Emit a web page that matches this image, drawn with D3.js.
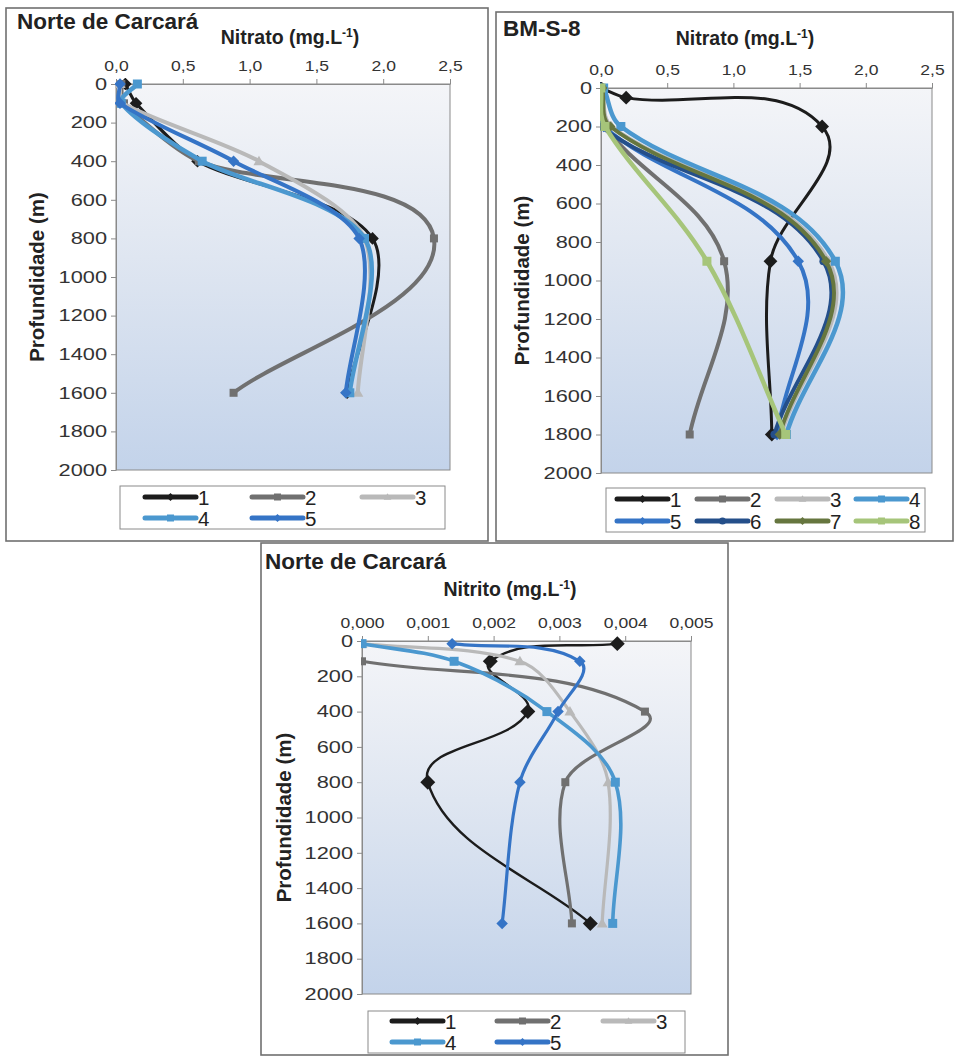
<!DOCTYPE html>
<html>
<head>
<meta charset="utf-8">
<script src="https://cdn.jsdelivr.net/npm/d3@7"></script>
<style>
  html, body { margin: 0; padding: 0; background: #ffffff; }
  svg { display: block; font-family: "Liberation Sans", Arial, sans-serif; }
</style>
</head>
<body>
<svg id="chart" width="955" height="1057"></svg>
<script>
// ---- data ---------------------------------------------------------------
const seriesNames5 = ["1", "2", "3", "4", "5"];
const seriesNames8 = ["1", "2", "3", "4", "5", "6", "7", "8"];
const depthTicks = [0, 200, 400, 600, 800, 1000, 1200, 1400, 1600, 1800, 2000];
const nitratoTicks = [0, 0.5, 1.0, 1.5, 2.0, 2.5];
const nitritoTicks = [0, 0.001, 0.002, 0.003, 0.004, 0.005];

// Norte de Carcará — nitrato (mg/L) by depth (m)
const ncNitratoDepths = [0, 100, 400, 800, 1600];
const ncNitrato1 = [0.07, 0.15, 0.61, 1.92, 1.73];
const ncNitrato2 = [0.04, 0.06, 0.62, 2.38, 0.88];
const ncNitrato3 = [0.03, 0.05, 1.07, 1.86, 1.81];
const ncNitrato4 = [0.16, 0.04, 0.645, 1.86, 1.75];
const ncNitrato5 = [0.03, 0.03, 0.88, 1.82, 1.72];

// BM-S-8 — nitrato (mg/L) by depth (m)
const bmDepths = [0, 50, 200, 900, 1800];
const bmNitrato1 = [0.0, 0.19, 1.67, 1.28, 1.29];
const bmNitrato2 = [0.01, null, 0.03, 0.93, 0.67];
const bmNitrato3 = [0.01, null, 0.08, 1.72, 1.36];
const bmNitrato4 = [0.02, null, 0.15, 1.77, 1.40];
const bmNitrato5 = [0.0, null, 0.02, 1.49, 1.33];
const bmNitrato6 = [0.01, null, 0.0, 1.68, 1.31];
const bmNitrato7 = [0.01, null, 0.07, 1.70, 1.35];
const bmNitrato8 = [0.0, null, 0.03, 0.80, 1.395];

// Norte de Carcará — nitrito (mg/L) by depth (m)
const ncNitritoDepths = [15, 115, 400, 800, 1600];
const ncNitrito1 = [0.00388, 0.00195, 0.00252, 0.00100, 0.00347];
const ncNitrito2 = [null, 0.0, 0.00430, 0.00309, 0.00319];
const ncNitrito3 = [0.0, 0.00240, 0.00316, 0.00374, 0.00365];
const ncNitrito4 = [0.0, 0.00140, 0.00281, 0.00385, 0.00381];
const ncNitrito5 = [0.00137, 0.00331, 0.00298, 0.00240, 0.00213];

// ---- series styling -----------------------------------------------------
const styles = {
  "1": { color: "#1c1c1c", marker: "diamond", width: 3, size: 10 },
  "2": { color: "#707070", marker: "square", width: 4, size: 8 },
  "3": { color: "#b9b9b9", marker: "triangle", width: 4, size: 10 },
  "4": { color: "#4b98cf", marker: "square", width: 4.5, size: 9 },
  "5": { color: "#3574c6", marker: "diamond", width: 4, size: 10 },
  "6": { color: "#244f8a", marker: "circle", width: 4, size: 8 },
  "7": { color: "#66763f", marker: "diamond", width: 4, size: 9 },
  "8": { color: "#a6c57a", marker: "square", width: 4.5, size: 9 }
};

const svg = d3.select("#chart");
const defs = svg.append("defs");
const grad = defs.append("linearGradient")
  .attr("id", "plotBg").attr("x1", 0).attr("y1", 0).attr("x2", 0).attr("y2", 1);
grad.append("stop").attr("offset", "0%").attr("stop-color", "#f4f5f8");
grad.append("stop").attr("offset", "45%").attr("stop-color", "#dfe6f1");
grad.append("stop").attr("offset", "100%").attr("stop-color", "#c3d3ea");

function markerPath(type, s) {
  const h = s / 2;
  if (type === "diamond") return `M0,${-h * 1.15}L${h * 1.15},0L0,${h * 1.15}L${-h * 1.15},0Z`;
  if (type === "square") return `M${-h},${-h}H${h}V${h}H${-h}Z`;
  if (type === "triangle") return `M0,${-h * 1.1}L${h * 1.1},${h * 0.8}L${-h * 1.1},${h * 0.8}Z`;
  if (type === "circle") return d3.symbol(d3.symbolCircle, s * s * 0.8)();
  return "";
}

// Smoothed line through pixel points: tangent direction from the neighbours,
// handle length proportional to each adjacent segment (no overshoot on short ones).
function smoothPath(pts, k) {
  const path = d3.path();
  const n = pts.length;
  if (!n) return "";
  const dir = pts.map((p, i) => {
    const a = pts[Math.max(0, i - 1)], b = pts[Math.min(n - 1, i + 1)];
    const dx = b[0] - a[0], dy = b[1] - a[1];
    const len = Math.hypot(dx, dy) || 1;
    return [dx / len, dy / len];
  });
  path.moveTo(pts[0][0], pts[0][1]);
  for (let i = 0; i < n - 1; i++) {
    const p0 = pts[i], p1 = pts[i + 1];
    const seg = Math.hypot(p1[0] - p0[0], p1[1] - p0[1]) * k;
    path.bezierCurveTo(
      p0[0] + dir[i][0] * seg, p0[1] + dir[i][1] * seg,
      p1[0] - dir[i + 1][0] * seg, p1[1] - dir[i + 1][1] * seg,
      p1[0], p1[1]);
  }
  return path.toString();
}

let clipId = 0;

function drawPanel(cfg) {
  const g = svg.append("g");
  // panel frame
  g.append("rect")
    .attr("x", cfg.frame.x).attr("y", cfg.frame.y)
    .attr("width", cfg.frame.w).attr("height", cfg.frame.h)
    .attr("fill", "#ffffff").attr("stroke", "#707070").attr("stroke-width", 1.6);

  const p = cfg.plot;
  const x = d3.scaleLinear().domain(cfg.xDomain).range([p.l, p.r]);
  const y = d3.scaleLinear().domain([0, 2000]).range([p.t, p.b]);

  g.append("rect")
    .attr("x", p.l).attr("y", p.t).attr("width", p.r - p.l).attr("height", p.b - p.t)
    .attr("fill", "url(#plotBg)").attr("stroke", "#8a8a8a").attr("stroke-width", 1);

  const cid = "plotClip" + (clipId++);
  defs.append("clipPath").attr("id", cid).append("rect")
    .attr("x", p.l - 1).attr("y", p.t - 6).attr("width", p.r - p.l + 2).attr("height", p.b - p.t + 12);

  // top value axis
  const xAxis = d3.axisTop(x).tickValues(cfg.xTicks).tickSize(5).tickSizeOuter(0)
    .tickFormat(d => d3.format(cfg.xFormat)(d).replace(".", ","));
  const xg = g.append("g").attr("transform", `translate(0,${p.t})`).call(xAxis);
  xg.select(".domain").attr("stroke", "#8a8a8a");
  xg.selectAll(".tick line").attr("stroke", "#8a8a8a");
  xg.selectAll(".tick text").attr("font-size", 15).attr("fill", "#333")
    .attr("font-family", "Liberation Sans, Arial, sans-serif")
    .attr("y", -13).attr("dy", 0).attr("transform", "scale(1.17,1)");

  // depth axis
  const yAxis = d3.axisLeft(y).tickValues(depthTicks).tickSize(5).tickSizeOuter(0)
    .tickFormat(d3.format("d"));
  const yg = g.append("g").attr("transform", `translate(${p.l},0)`).call(yAxis);
  yg.select(".domain").attr("stroke", "#8a8a8a");
  yg.selectAll(".tick line").attr("stroke", "#8a8a8a");
  yg.selectAll(".tick text").attr("font-size", 16.5).attr("fill", "#333")
    .attr("font-family", "Liberation Sans, Arial, sans-serif")
    .attr("x", -9 / 1.32).attr("transform", "scale(1.32,1)");

  // titles
  g.append("text").attr("x", cfg.title.x).attr("y", cfg.title.y)
    .attr("font-size", 22.5).attr("font-weight", "bold").attr("fill", "#222").text(cfg.title.text);
  const xt = g.append("text").attr("x", cfg.xTitle.x).attr("y", cfg.xTitle.y)
    .attr("text-anchor", "middle").attr("font-size", 19.5).attr("font-weight", "bold").attr("fill", "#222");
  xt.append("tspan").text(cfg.xTitle.text + " (mg.L");
  xt.append("tspan").attr("font-size", 12).attr("dy", -7).text("-1");
  xt.append("tspan").attr("dy", 7).text(")");
  g.append("text")
    .attr("transform", `translate(${cfg.yTitleX},${(p.t + p.b) / 2}) rotate(-90)`)
    .attr("text-anchor", "middle").attr("font-size", 20.5).attr("font-weight", "bold")
    .attr("fill", "#222").text("Profundidade (m)");

  // series
  const lines = g.append("g").attr("clip-path", `url(#${cid})`);
  cfg.series.forEach((vals, i) => {
    const name = cfg.names[i];
    const st = styles[name];
    const pts = cfg.depths.map((depth, j) => ({ depth, v: vals[j] })).filter(d => d.v !== null);
    lines.append("path")
      .attr("d", smoothPath(pts.map(d => [x(d.v), y(d.depth)]), cfg.smooth))
      .attr("fill", "none").attr("stroke", st.color)
      .attr("stroke-width", st.width * cfg.lineScale)
      .attr("stroke-linejoin", "round").attr("stroke-linecap", "round");
    lines.selectAll(null).data(pts).enter().append("path")
      .attr("transform", d => `translate(${x(d.v)},${y(d.depth)})`)
      .attr("d", markerPath(st.marker, st.size * cfg.markerScale * (name === "1" ? cfg.blackScale : 1)))
      .attr("fill", st.color);
  });

  // legend
  const L = cfg.legend;
  g.append("rect").attr("x", L.x).attr("y", L.y).attr("width", L.w).attr("height", L.h)
    .attr("fill", "#ffffff").attr("stroke", "#8a8a8a").attr("stroke-width", 1);
  cfg.names.forEach((name, i) => {
    const st = styles[name];
    const cx = L.cols[i % L.cols.length];
    const cy = L.rows[Math.floor(i / L.cols.length)];
    g.append("line").attr("x1", cx).attr("x2", cx + 51).attr("y1", cy).attr("y2", cy)
      .attr("stroke", st.color).attr("stroke-width", 5).attr("stroke-linecap", "round");
    g.append("path").attr("transform", `translate(${cx + 25.5},${cy})`)
      .attr("d", markerPath(st.marker, 7)).attr("fill", st.color);
    g.append("text").attr("x", cx + 53).attr("y", cy + 7.5)
      .attr("font-size", 20.5).attr("fill", "#222").text(name);
  });
}

drawPanel({
  frame: { x: 6, y: 8, w: 482, h: 533 },
  plot: { l: 116, t: 84, r: 450, b: 470 },
  xDomain: [0, 2.5], xTicks: nitratoTicks, xFormat: ".1f",
  title: { x: 17, y: 29, text: "Norte de Carcará" },
  xTitle: { x: 290, y: 44, text: "Nitrato" },
  yTitleX: 44,
  depths: ncNitratoDepths,
  series: [ncNitrato1, ncNitrato2, ncNitrato3, ncNitrato4, ncNitrato5],
  names: seriesNames5,
  smooth: 0.26,
  lineScale: 1, markerScale: 1, blackScale: 1.1,
  legend: { x: 120, y: 486, w: 325, h: 43, cols: [145, 252, 362], rows: [497, 518] }
});

drawPanel({
  frame: { x: 496, y: 12, w: 457, h: 529 },
  plot: { l: 601, t: 88, r: 932, b: 473 },
  xDomain: [0, 2.5], xTicks: nitratoTicks, xFormat: ".1f",
  title: { x: 503, y: 36, text: "BM-S-8" },
  xTitle: { x: 745, y: 45, text: "Nitrato" },
  yTitleX: 529,
  depths: bmDepths,
  series: [bmNitrato1, bmNitrato2, bmNitrato3, bmNitrato4, bmNitrato5, bmNitrato6, bmNitrato7, bmNitrato8],
  names: seriesNames8,
  smooth: 0.34,
  lineScale: 1, markerScale: 1, blackScale: 1.2,
  legend: { x: 606, y: 488, w: 319, h: 44, cols: [617, 697, 777, 856], rows: [499, 521] }
});

drawPanel({
  frame: { x: 261, y: 543, w: 467, h: 512 },
  plot: { l: 362, t: 641, r: 691, b: 994 },
  xDomain: [0, 0.005], xTicks: nitritoTicks, xFormat: ".3f",
  title: { x: 265, y: 569, text: "Norte de Carcará" },
  xTitle: { x: 510, y: 596, text: "Nitrito" },
  yTitleX: 291,
  depths: ncNitritoDepths,
  series: [ncNitrito1, ncNitrito2, ncNitrito3, ncNitrito4, ncNitrito5],
  names: seriesNames5,
  smooth: 0.32,
  lineScale: 0.8, markerScale: 1, blackScale: 1.3,
  legend: { x: 368, y: 1011, w: 317, h: 42, cols: [392, 497, 603], rows: [1021, 1042] }
});
</script>
</body>
</html>
